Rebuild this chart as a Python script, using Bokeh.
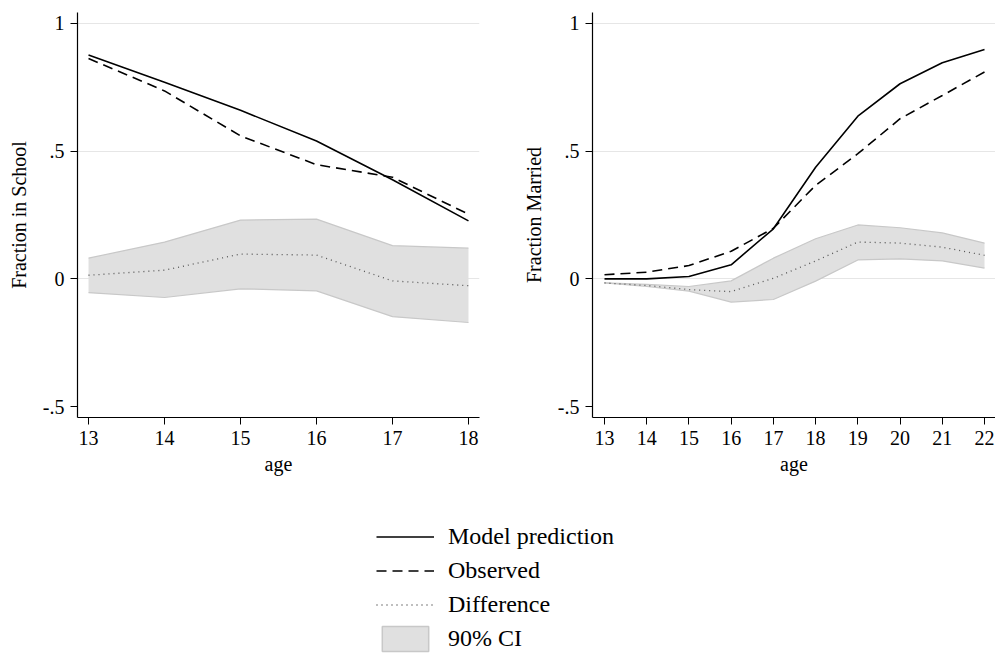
from bokeh.plotting import figure
from bokeh.layouts import column, row
from bokeh.models import Range1d, FixedTicker, Legend, LegendItem, ColumnDataSource
from bokeh.embed import file_html
from bokeh.resources import INLINE

# ---------------- data ----------------
age_school = [13, 14, 15, 16, 17, 18]
school_model = [0.877, 0.770, 0.660, 0.540, 0.388, 0.227]
school_obs = [0.863, 0.736, 0.560, 0.447, 0.398, 0.253]
school_diff = [0.014, 0.034, 0.097, 0.093, -0.008, -0.027]
school_ci_hi = [0.081, 0.144, 0.230, 0.234, 0.130, 0.120]
school_ci_lo = [-0.054, -0.073, -0.039, -0.047, -0.148, -0.171]

age_married = [13, 14, 15, 16, 17, 18, 19, 20, 21, 22]
married_model = [0.000, 0.000, 0.009, 0.055, 0.196, 0.437, 0.637, 0.764, 0.846, 0.898]
married_obs = [0.016, 0.026, 0.052, 0.108, 0.198, 0.366, 0.490, 0.627, 0.718, 0.810]
married_diff = [-0.016, -0.026, -0.042, -0.050, 0.002, 0.070, 0.144, 0.140, 0.124, 0.092]
married_ci_hi = [-0.016, -0.022, -0.030, -0.008, 0.081, 0.157, 0.211, 0.200, 0.180, 0.140]
married_ci_lo = [-0.016, -0.030, -0.048, -0.091, -0.081, -0.009, 0.074, 0.078, 0.070, 0.042]

y_ticks = [-0.5, 0, 0.5, 1]
y_tick_labels = {-0.5: "-.5", 0: "0", 0.5: ".5", 1: "1"}
grid_ticks = [0, 0.5, 1]

legend_labels = ["Model prediction", "Observed", "Difference", "90% CI"]

FONT = "Liberation Serif"
LINE_W = 1.6
DASH = "10 6"
DOT = "1 4"
FILL = "#e0e0e0"
EDGE = "#c8c8c8"


def make_panel(ages, model, obs, diff, lo, hi, ylabel, width, border_left, border_right, xr):
    p = figure(width=width, height=490, output_backend="svg", toolbar_location=None,
               x_range=Range1d(*xr), y_range=Range1d(-0.543, 1.043),
               min_border_left=border_left, min_border_right=border_right,
               min_border_top=12, min_border_bottom=73)
    p.outline_line_color = None
    p.background_fill_color = "white"
    p.border_fill_color = "white"

    src = ColumnDataSource(dict(x=ages, model=model, obs=obs, diff=diff, lo=lo, hi=hi))
    p.varea(x="x", y1="lo", y2="hi", source=src, fill_color=FILL)
    p.line("x", "hi", source=src, line_color=EDGE, line_width=1.2)
    p.line("x", "lo", source=src, line_color=EDGE, line_width=1.2)
    p.line("x", "diff", source=src, line_color="#555555", line_width=1.3, line_dash=DOT)
    p.line("x", "obs", source=src, line_color="black", line_width=LINE_W, line_dash=DASH)
    p.line("x", "model", source=src, line_color="black", line_width=LINE_W)

    p.xgrid.visible = False
    p.ygrid.ticker = FixedTicker(ticks=grid_ticks)
    p.ygrid.grid_line_color = "#e6e6e6"
    p.ygrid.grid_line_width = 1

    p.xaxis.ticker = FixedTicker(ticks=ages)
    p.yaxis.ticker = FixedTicker(ticks=y_ticks)
    p.yaxis.major_label_overrides = y_tick_labels
    p.yaxis.major_label_orientation = "horizontal"
    p.xaxis.axis_label = "age"
    p.yaxis.axis_label = ylabel
    for ax in (p.xaxis[0], p.yaxis[0]):
        ax.axis_line_color = "black"
        ax.axis_line_width = 1.2
        ax.major_tick_line_color = "black"
        ax.major_tick_in = 0
        ax.major_tick_out = 7
        ax.minor_tick_line_color = None
        ax.major_label_text_font = FONT
        ax.major_label_text_font_size = "20px"
        ax.major_label_text_color = "black"
        ax.axis_label_text_font = FONT
        ax.axis_label_text_font_size = "20px"
        ax.axis_label_text_font_style = "normal"
        ax.axis_label_text_color = "black"
    p.xaxis.major_label_standoff = 6
    p.xaxis.axis_label_standoff = 5
    p.yaxis.major_label_standoff = 6
    p.yaxis.axis_label_standoff = 10
    return p


p1 = make_panel(age_school, school_model, school_obs, school_diff, school_ci_lo, school_ci_hi,
                "Fraction in School", 490, 77, 11, (12.855, 18.145))
p2 = make_panel(age_married, married_model, married_obs, married_diff, married_ci_lo, married_ci_hi,
                "Fraction Married", 505, 102, 0, (12.716, 22.26))

# ---------------- legend panel ----------------
pl = figure(width=995, height=164, output_backend="svg", toolbar_location=None,
            x_range=Range1d(0, 1), y_range=Range1d(0, 1),
            x_axis_type=None, y_axis_type=None, min_border=0)
pl.outline_line_color = None
pl.xgrid.visible = False
pl.ygrid.visible = False
nan = float("nan")
placeholder = ColumnDataSource(dict(x=[nan], y=[nan]))
r_model = pl.line("x", "y", source=placeholder, line_color="black", line_width=LINE_W)
r_obs = pl.line("x", "y", source=placeholder, line_color="black", line_width=LINE_W, line_dash=DASH)
r_diff = pl.line("x", "y", source=placeholder, line_color="#555555", line_width=1.3, line_dash=DOT)
r_ci = pl.patch("x", "y", source=placeholder, fill_color=FILL, line_color=EDGE, line_width=1.5)

legend = Legend(items=[LegendItem(label=legend_labels[0], renderers=[r_model]),
                       LegendItem(label=legend_labels[1], renderers=[r_obs]),
                       LegendItem(label=legend_labels[2], renderers=[r_diff]),
                       LegendItem(label=legend_labels[3], renderers=[r_ci])],
                location=(376, 0), padding=0, margin=0, spacing=3,
                glyph_width=58, glyph_height=31, label_standoff=14,
                label_text_font=FONT, label_text_font_size="24px", label_text_color="black",
                border_line_color=None, background_fill_alpha=0)
pl.add_layout(legend, "center")

layout = column(row(p1, p2), pl)
open("out.html", "w").write(file_html(layout, INLINE))
